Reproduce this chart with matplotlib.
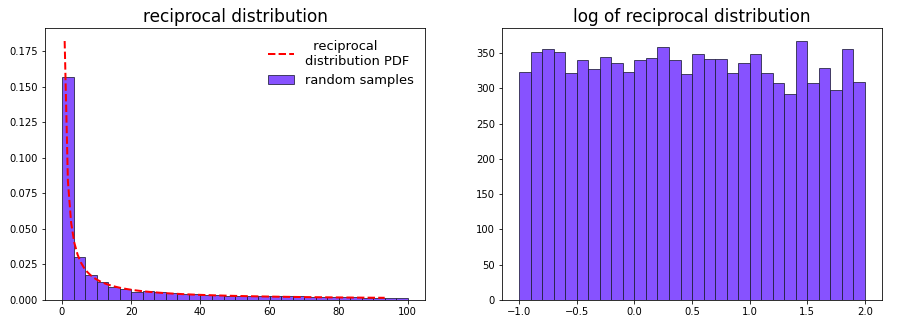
import numpy as np
import matplotlib
matplotlib.use("Agg")
import matplotlib.pyplot as plt

# support of the reciprocal distribution
a, b = 0.1, 100.0
n_bins = 30

# density of the samples in each of the 30 bins (left panel)
sample_density = [0.157, 0.030, 0.0176, 0.0125, 0.0092, 0.0077, 0.0058, 0.0060,
                  0.0058, 0.0049, 0.0045, 0.0042, 0.0038, 0.0036, 0.0030, 0.0031,
                  0.0028, 0.0027, 0.0028, 0.0026, 0.0025, 0.0023, 0.0023, 0.0020,
                  0.0020, 0.0018, 0.0016, 0.0015, 0.0014, 0.0013]

# counts of log10(samples) in each of the 30 bins (right panel)
log_counts = [323, 351, 355, 351, 322, 340, 328, 344, 336, 323,
              340, 343, 358, 340, 320, 349, 341, 341, 322, 336,
              349, 322, 307, 292, 367, 307, 329, 297, 356, 309]

# range of the pdf curve: ppf(0.3) .. ppf(0.99)
q_lo, q_hi = 0.3, 0.99

bar_color = "#8752ff"
edge_color = (0.1, 0.1, 0.2, 0.75)

fig = plt.figure(figsize=(905 / 72, 330 / 72), dpi=72)
ax1 = fig.add_axes([0.0497, 0.0909, 0.42, 0.824])
ax2 = fig.add_axes([0.5547, 0.0909, 0.42, 0.824])

# left: histogram + pdf
edges = np.linspace(a, b, n_bins + 1)
_, _, bars = ax1.hist(edges[:-1], bins=edges, weights=sample_density, color=bar_color,
                      edgecolor=edge_color, linewidth=1)
x = np.linspace(a * (b / a) ** q_lo, a * (b / a) ** q_hi, 100)
pdf = 1.0 / (x * np.log(b / a))
line, = ax1.plot(x, pdf, "r--", lw=2)
ax1.set_title("reciprocal distribution", fontsize=17)
ax1.legend([line, bars[0]], ["  reciprocal\ndistribution PDF", "random samples"],
           frameon=False, fontsize=13, loc="upper right")

# right: histogram of log10 samples
log_edges = np.linspace(np.log10(a), np.log10(b), n_bins + 1)
ax2.hist(log_edges[:-1], bins=log_edges, weights=log_counts, color=bar_color,
         edgecolor=edge_color, linewidth=1)
ax2.set_title("log of reciprocal distribution", fontsize=17)

for ax in (ax1, ax2):
    ax.tick_params(labelsize=10)

fig.savefig("out.png", dpi=72, facecolor="white")
